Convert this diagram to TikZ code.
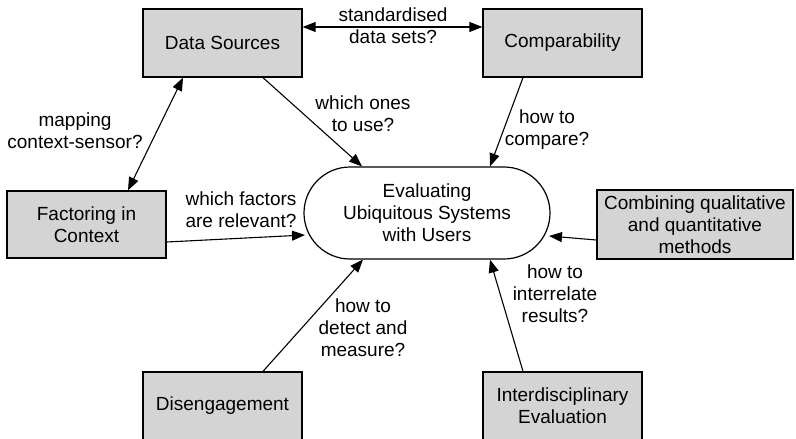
\documentclass[tikz,border=0pt]{standalone}
\usepackage{fontspec}
\setmainfont{Liberation Sans}
\usetikzlibrary{arrows.meta,shapes.misc,calc}
\definecolor{boxgray}{HTML}{D4D4D4}
\tikzset{
  topic/.style={draw=black, line width=1.3pt, fill=boxgray, minimum width=159pt,
    minimum height=68pt, align=center, inner sep=2pt},
  hub/.style={draw=black, line width=1.2pt, rounded rectangle, minimum width=250pt,
    minimum height=92pt, align=center, inner sep=2pt},
  question/.style={align=center, inner sep=1pt},
  link/.style={line width=1.1pt, -{Triangle[length=13pt,width=10pt]}},
  twoway/.style={line width=1.1pt, {Triangle[length=13pt,width=10pt]}-{Triangle[length=13pt,width=10pt]}}
}
\begin{document}
\begin{tikzpicture}[x=1pt, y=-1pt, font=\fontsize{19}{22}\selectfont]
  \useasboundingbox (0,0) rectangle (796,439);

  % central question
  \node[hub] (eval) at (427,213) {Evaluating\\Ubiquitous Systems\\with Users};

  % surrounding topics
  \node[topic] (ds)  at (222.5,43)  {Data Sources};
  \node[topic] (cmp) at (562.5,43)  {Comparability};
  \node[topic, minimum height=67pt] (fac) at (86.5,224.5) {Factoring in\\Context};
  \node[topic, minimum width=196pt, minimum height=69pt] (cmb) at (695,224.5)
    {Combining qualitative\\and quantitative\\methods};
  \node[topic] (dis) at (222.5,406) {Disengagement};
  \node[topic] (int) at (562.5,406) {Interdisciplinary\\Evaluation};

  % connector end points on the borders
  \coordinate (dsE)  at ($(ds.east)+(0,-16)$);
  \coordinate (cmpW) at ($(cmp.west)+(0,-16)$);
  \coordinate (dsS1) at ($(ds.south)+(40.5,0)$);
  \coordinate (dsS2) at ($(ds.south)+(-39.5,0)$);
  \coordinate (facN) at ($(fac.north)+(41.5,0)$);
  \coordinate (facE) at ($(fac.east)+(0,17.5)$);
  \coordinate (cmpS) at ($(cmp.south)+(-39.5,0)$);
  \coordinate (cmbW) at ($(cmb.west)+(0,15.5)$);
  \coordinate (disN) at ($(dis.north)+(40.5,0)$);
  \coordinate (intN) at ($(int.north)+(-39.5,0)$);
  \coordinate (evN1) at ($(eval.north)+(-65,0)$);
  \coordinate (evN2) at ($(eval.north)+(63,0)$);
  \coordinate (evW)  at ($(eval.center)+(-122,22)$);
  \coordinate (evE)  at ($(eval.center)+(122,23)$);
  \coordinate (evS1) at ($(eval.south)+(-64,0)$);
  \coordinate (evS2) at ($(eval.south)+(63,0)$);

  % connectors
  \draw[twoway] (dsE) -- (cmpW);
  \draw[twoway] (dsS2) -- (facN);
  \draw[link] (dsS1) -- (evN1);
  \draw[link] (cmpS) -- (evN2);
  \draw[link] (facE) -- (evW);
  \draw[link] (cmbW) -- (evE);
  \draw[link] (disN) -- (evS1);
  \draw[link] (intN) -- (evS2);

  % questions along the connectors
  \node[question] (qstd) at (393,26)    {standardised\\data sets?};
  \node[question] (quse) at (363,113.5) {which ones\\to use?};
  \node[question] (qcmp) at (547,129.5) {how to\\compare?};
  \node[question] (qmap) at (75,130.5)  {mapping\\context-sensor?};
  \node[question] (qfac) at (241,209.5) {which factors\\are relevant?};
  \node[question] (qdet) at (363,327.5) {how to\\detect and\\measure?};
  \node[question] (qrel) at (555,293.5) {how to\\interrelate\\results?};
\end{tikzpicture}
\end{document}
